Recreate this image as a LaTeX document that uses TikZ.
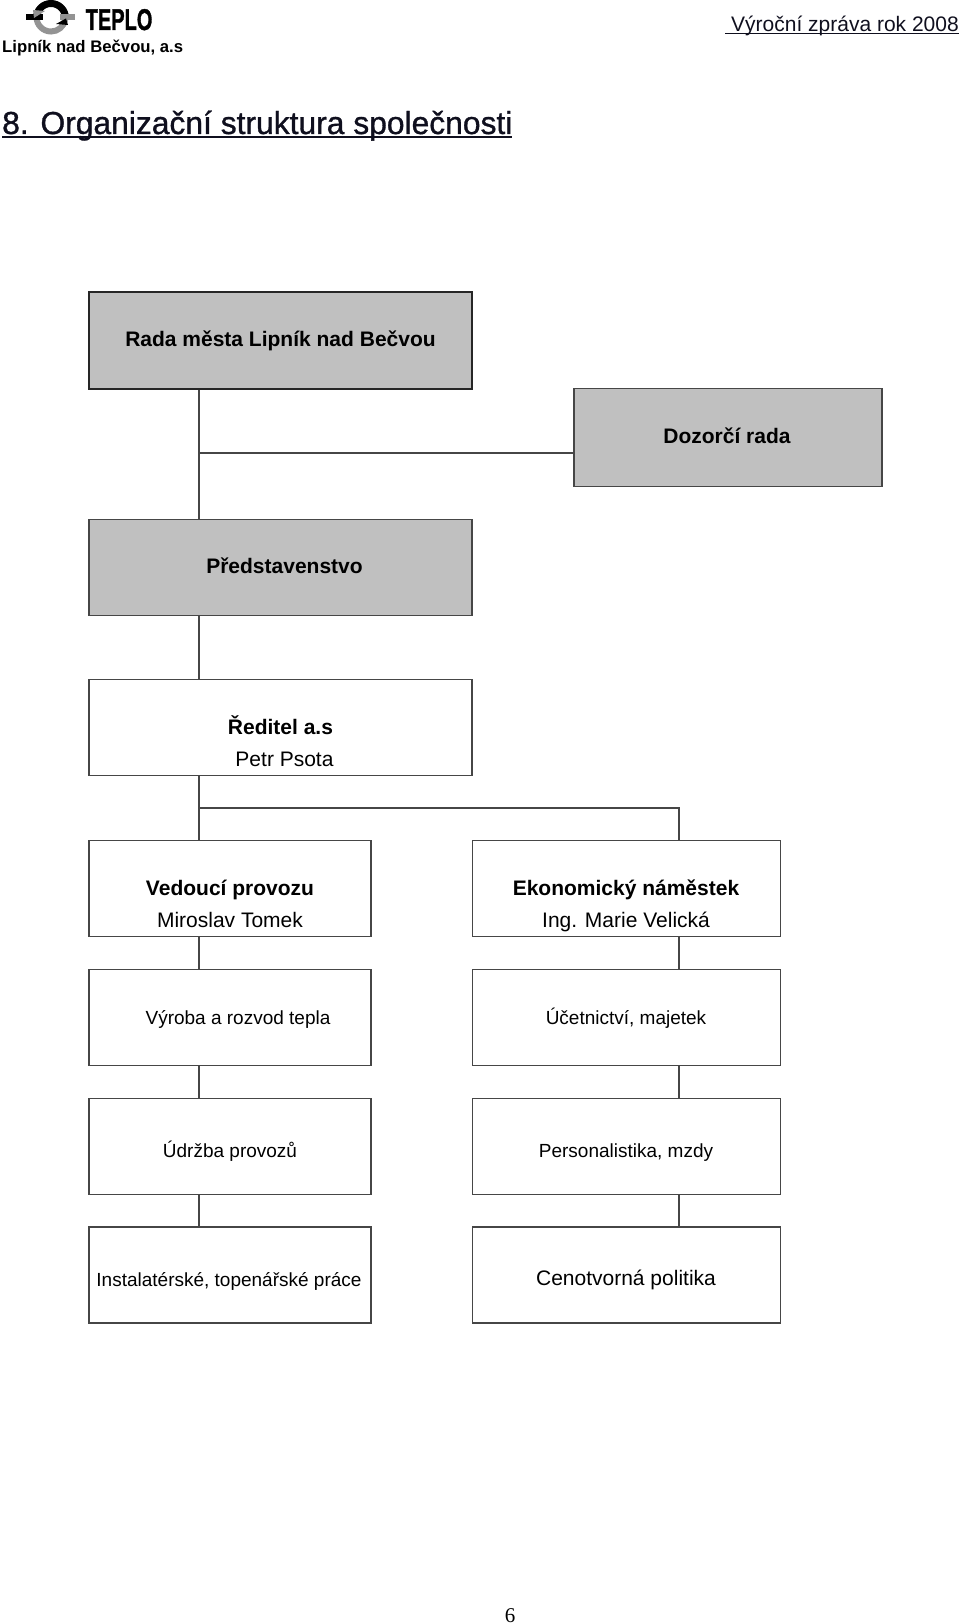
\documentclass[tikz,border=0pt]{standalone}
\usepackage{fontspec}
\setmainfont{Liberation Sans}
\newfontfamily\serifpn{Liberation Serif}
\newfontfamily\fatsans[FakeBold=1.0]{Liberation Sans}
\newfontfamily\fatbold[FakeBold=1.5]{Liberation Sans Bold}
\definecolor{boxgray}{RGB}{192,192,192}
\definecolor{linegray}{RGB}{70,70,70}
\definecolor{headink}{RGB}{15,15,30}
\tikzset{
  x=1pt,y=-1pt,
  orgbox/.style={draw=linegray,line width=1.5pt,minimum width=#1,minimum height=96pt,inner sep=0pt,anchor=north west,align=center,text=black},
  orgbox/.default=282pt,
  graybox/.style={orgbox=#1,fill=boxgray},
  link/.style={draw=linegray,line width=1.1pt},
  rulel/.style={draw=headink,line width=1.8pt},
  tb/.style={font=\fontsize{21}{24}\selectfont\bfseries,anchor=base,inner sep=0pt},
  tr/.style={font=\fontsize{19}{24}\selectfont,anchor=base,inner sep=0pt},
  tm/.style={font=\fontsize{21}{24}\selectfont,anchor=base,inner sep=0pt},
}
\begin{document}
\begin{tikzpicture}
\useasboundingbox (0,0) rectangle (960,1624);
% logo
\draw[line width=6pt,color=gray!85] (36.5,17) arc[start angle=180,end angle=10,radius=14.5];
\draw[line width=7pt,color=black] (36.5,18) arc[start angle=180,end angle=360,radius=14.5];
\fill[black] (26,14.5) rectangle (43,20.5);
\fill[gray!85] (60,14.5) rectangle (75,20.5);
\fill[black] (56,24) -- (66,18.5) -- (68,25) -- cycle;
\fill[gray!85] (45,11) -- (34,18) -- (33,10) -- cycle;
\node[anchor=base west,inner sep=0pt] (teplo) at (85.5,30) {\scalebox{0.8}[1.2]{\fontsize{25}{25}\selectfont\fatbold TEPLO}};
\node[anchor=base west,inner sep=0pt,font=\fontsize{16.7}{18}\selectfont\bfseries] (firma) at (2,53) {Lipník nad Bečvou, a.s};
\node[anchor=base east,inner sep=0pt,font=\fontsize{21}{24}\selectfont,text=headink] (vz) at (959,31.5) {Výroční zpráva rok 2008};
\coordinate (vzl) at (725,33.5);
\coordinate (vzr) at (959,33.5);
\draw[rulel] (vzl) -- (vzr);
\node[anchor=base west,inner sep=0pt,font=\fontsize{31.8}{34}\selectfont\fatsans,text=headink] (title) at (2,134) {8. Organizační struktura společnosti};
\coordinate (til) at (2,137);
\coordinate (tir) at (512,137);
\draw[rulel,line width=2pt] (til) -- (tir);
% boxes
\node[graybox=383pt,line width=2.4pt,draw=black!85,minimum height=97pt] (rada) at (88,290.5) {};
\node[graybox=308pt,minimum height=98pt] (dozor) at (573,387.5) {};
\node[graybox=383pt] (pred) at (88,518.5) {};
\node[orgbox=383pt] (red) at (88,678.5) {};
\node[orgbox=282pt] (ved) at (88,839.5) {};
\node[orgbox=308pt] (eko) at (471.5,839.5) {};
\node[orgbox=282pt] (vyr) at (88,968.5) {};
\node[orgbox=308pt] (uce) at (471.5,968.5) {};
\node[orgbox=282pt] (udr) at (88,1097.5) {};
\node[orgbox=308pt] (per) at (471.5,1097.5) {};
\node[orgbox=282pt] (ins) at (88,1226) {};
\node[orgbox=308pt] (cen) at (471.5,1226) {};
% texts
\node[tb] (t1) at (280.5,346) {Rada města Lipník nad Bečvou};
\node[tb] (t2) at (727,443) {Dozorčí rada};
\node[tb] (t3) at (284.5,573) {Představenstvo};
\node[tb] (t4) at (280.5,734) {Ředitel a.s};
\node[tm] (t5) at (284.5,766) {Petr Psota};
\node[tb] (t6) at (230,895) {Vedoucí provozu};
\node[tm] (t7) at (230,927) {Miroslav Tomek};
\node[tb] (t8) at (626,895) {Ekonomický náměstek};
\node[tm] (t9) at (626,927) {Ing. Marie Velická};
\node[tr] (t10) at (238,1024) {Výroba a rozvod tepla};
\node[tr] (t11) at (626,1024) {Účetnictví, majetek};
\node[tr] (t12) at (230,1157) {Údržba provozů};
\node[tr] (t13) at (626,1157) {Personalistika, mzdy};
\node[tr] (t14) at (229,1286) {Instalatérské, topenářské práce};
\node[tm] (t15) at (626,1285) {Cenotvorná politika};
\node[anchor=base,inner sep=0pt,font=\serifpn\fontsize{21}{24}\selectfont] (pn) at (510,1622) {6};
% connectors
\coordinate (j1) at (199,453);
\coordinate (j2) at (199,808);
\coordinate (j3) at (679,808);
\draw[link] (rada.south west -| j1) -- (pred.north west -| j1);
\draw[link] (j1) -- (j1 -| dozor.west);
\draw[link] (pred.south west -| j1) -- (red.north west -| j1);
\draw[link] (red.south west -| j1) -- (ved.north west -| j1);
\draw[link] (j2) -- (j3) -- (eko.north west -| j3);
\draw[link] (ved.south west -| j1) -- (vyr.north west -| j1);
\draw[link] (vyr.south west -| j1) -- (udr.north west -| j1);
\draw[link] (udr.south west -| j1) -- (ins.north west -| j1);
\draw[link] (eko.south west -| j3) -- (uce.north west -| j3);
\draw[link] (uce.south west -| j3) -- (per.north west -| j3);
\draw[link] (per.south west -| j3) -- (cen.north west -| j3);
\end{tikzpicture}
\end{document}
